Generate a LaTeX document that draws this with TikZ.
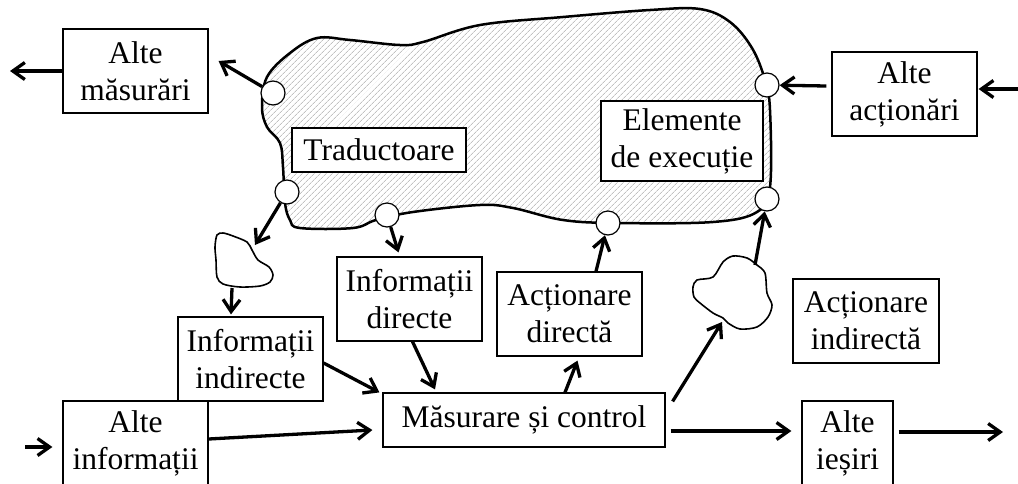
\documentclass[tikz,border=0pt]{standalone}
\usepackage{fontspec}
\setmainfont{Liberation Serif}
\usetikzlibrary{arrows.meta,patterns.meta}
\tikzset{
  box/.style 2 args={draw,fill=white,line width=1.2pt,align=center,inner sep=0pt,
    minimum width=#1,minimum height=#2,font=\fontsize{31.5}{37}\selectfont},
  port/.style={circle,draw,fill=white,line width=1.2pt,minimum size=24pt,inner sep=0pt},
  arr/.style={-{Straight Barb[length=12pt,width=17pt]},line width=3.3pt},
  hatched/.style={line width=2.5pt,pattern={Lines[angle=45,distance=4pt,line width=0.6pt]},pattern color=gray!75},
  cloud/.style={line width=1.6pt},
}

\begin{document}
\begin{tikzpicture}[x=1pt,y=-1pt]
    \useasboundingbox (0,0) rectangle (1018,483);
    \draw[hatched] plot[smooth cycle,tension=0.6] coordinates {(262,107) (267,77) (290,53) (317,38) (350,40) (400,45) (423,42) (480,25) (563,17) (650,10) (700,9) (730,22) (752,48) (765,80) (770,110) (770,187) (757,212) (713,222) (617,223) (563,220) (513,208) (480,205) (413,212) (376,220) (353,228) (300,228) (290,220) (285,203) (283,167) (280,143) (267,127)};
    \draw[cloud] plot[smooth cycle,tension=0.5] coordinates {(217,235) (223,233) (233,236) (247,242) (252,250) (258,260) (269,267) (273,275) (270,282) (260,286) (240,287) (223,284) (217,277) (216,260) (215,247)};
    \draw[cloud] plot[smooth cycle,tension=0.5] coordinates {(693,287) (697,280) (713,277) (723,262) (733,256) (747,258) (757,265) (765,273) (767,293) (772,305) (768,317) (757,327) (740,329) (728,323) (723,318) (713,313) (700,303) (694,297)};
    \node[box={145pt}{84pt}] (B1) at (135.5,71) {Alte\\măsurări};
    \node[box={174pt}{44pt}] (B2) at (379,150) {Traductoare};
    \node[box={162pt}{80pt}] (B3) at (682,141) {Elemente\\de execuție};
    \node[box={145pt}{84pt}] (B4) at (904.5,94) {Alte\\acționări};
    \node[box={145pt}{84pt}] (B5) at (250.5,359) {Informații\\indirecte};
    \node[box={145pt}{84pt}] (B6) at (409.5,299) {Informații\\directe};
    \node[box={282pt}{54pt}] (B7) at (524,420) {Măsurare și control};
    \node[box={145pt}{84pt}] (B8) at (569.5,314) {Acționare\\directă};
    \node[box={146pt}{84pt}] (B9) at (866,321) {Acționare\\indirectă};
    \node[box={145pt}{84pt}] (B10) at (135.5,443) {Alte\\informații};
    \node[box={91pt}{84pt}] (B11) at (847.5,443) {Alte\\ieșiri};
    \node[port] (C1) at (273,93) {};
    \node[port] (C2) at (287,192) {};
    \node[port] (C3) at (387,215) {};
    \node[port] (C4) at (608,223) {};
    \node[port] (C5) at (767,199) {};
    \node[port] (C6) at (767,85) {};
    \coordinate (L1) at (10,71);
    \coordinate (L2) at (25,447);
    \coordinate (R1) at (1003,432);
    \coordinate (R2) at (1018,89);
    \coordinate (P1) at (255,245);
    \coordinate (P2) at (232,288);
    \coordinate (P3) at (722,322);
    \coordinate (P4) at (755,265);
    \path[arr] (B1.west) edge (L1) (C1) edge ([xshift=10pt,yshift=10pt]B1.east);
    \path[arr] (C2) edge (P1) (P2) edge ([xshift=-19.5pt,yshift=2pt]B5.north);
    \path[arr] (C3) edge ([xshift=-11pt,yshift=4pt]B6.north);
    \path[arr] ([yshift=-4pt]B5.east) edge ([xshift=-3pt]B7.north west);
    \path[arr] ([xshift=3pt]B6.south) edge ([xshift=-89pt,yshift=3pt]B7.north);
    \path[arr] (L2) edge ([xshift=-10pt,yshift=-4pt]B10.west) ([yshift=4pt]B10.east) edge ([xshift=-10pt,yshift=-10pt]B7.west);
    \path[arr] ([xshift=41pt]B7.north) edge ([xshift=8pt,yshift=-4pt]B8.south) ([xshift=26.5pt]B8.north) edge (C4);
    \path[arr] ([xshift=7pt,yshift=-9pt]B7.north east) edge (P3);
    \path[arr] (P4) edge (C5);
    \path[arr] ([xshift=5pt,yshift=-11pt]B7.east) edge ([xshift=-10pt,yshift=12pt]B11.west);
    \path[arr] ([xshift=5pt,yshift=11pt]B11.east) edge (R1);
    \path[arr] (R2) edge ([xshift=1pt,yshift=5pt]B4.east) ([xshift=-5pt,yshift=8pt]B4.west) edge (C6);
\end{tikzpicture}
\end{document}
